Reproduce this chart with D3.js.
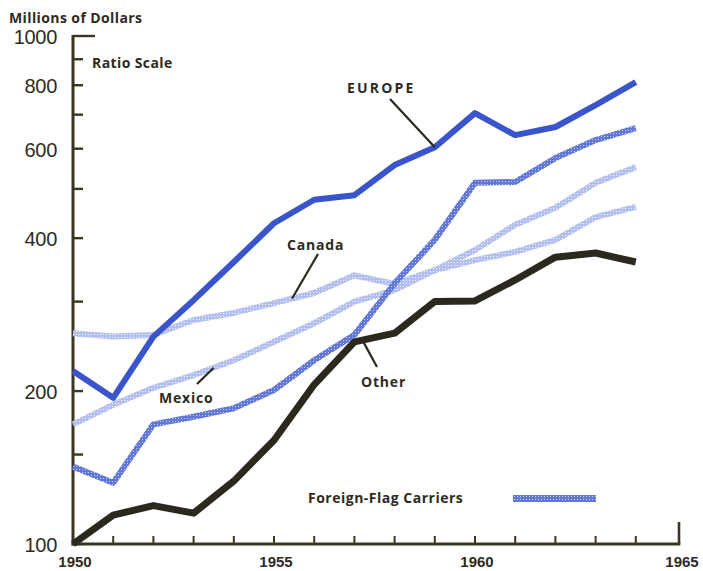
<!DOCTYPE html>
<html>
<head>
<meta charset="utf-8">
<script src="https://cdn.jsdelivr.net/npm/d3@7"></script>
<style>
  html, body { margin: 0; padding: 0; background: #ffffff; }
  svg { display: block; }
  text { fill: #2e2b1e; font-family: "Open Sans", "DejaVu Sans", sans-serif; }
</style>
</head>
<body>
<svg id="chart" width="703" height="571"></svg>
<script>
// Travel payments, millions of dollars (ratio scale), 1950-1964
const years = [1950, 1951, 1952, 1953, 1954, 1955, 1956, 1957, 1958, 1959, 1960, 1961, 1962, 1963, 1964];
const europe      = [219, 194, 256, 302, 359, 428, 476, 486, 557, 604, 705, 638, 662, 731, 811];
const foreignFlag = [142, 132, 172, 178, 185, 201, 230, 258, 326, 397, 514, 516, 575, 624, 659];
const mexico      = [172, 188, 203, 215, 230, 250, 272, 300, 316, 346, 379, 425, 459, 514, 552];
const canada      = [260, 256, 258, 276, 285, 298, 312, 338, 325, 346, 362, 376, 397, 440, 461];
const other       = [100, 114, 119, 115, 133, 160, 206, 250, 260, 300, 301, 331, 367, 374, 359];

const yTicks       = [100, 150, 200, 300, 400, 500, 600, 700, 800, 900, 1000];
const yTickLabels  = [100, 200, 400, 600, 800, 1000];
const xTickYears   = [1951, 1952, 1953, 1954, 1955, 1956, 1957, 1958, 1959, 1960, 1961, 1962, 1963, 1964];
const xLabelYears  = [1950, 1955, 1960, 1965];

const ink = "#3a3622";
const numFont = "'Liberation Sans', Arial, sans-serif";
const svg = d3.select("#chart");

const x = d3.scaleLinear().domain([1950, 1965]).range([73, 676]);
const y = d3.scaleLog().domain([100, 1000]).range([544, 36]);

// hatched stroke textures
const defs = svg.append("defs");
function hatch(id, base, dot) {
  const p = defs.append("pattern").attr("id", id)
    .attr("patternUnits", "userSpaceOnUse").attr("width", 3).attr("height", 3);
  p.append("rect").attr("width", 3).attr("height", 3).attr("fill", base);
  p.append("rect").attr("x", 1).attr("y", 1).attr("width", 1).attr("height", 1).attr("fill", dot);
}
hatch("hatchDense", "#6178d8", "#c9d1f3");
hatch("hatchLight", "#b3bfee", "#f2f4fd");

// axes
const yTickLong = 1000;
svg.append("g").selectAll("line").data(yTicks).join("line")
  .attr("x1", x(1950)).attr("x2", d => x(1950) + (d === yTickLong ? 22 : 10))
  .attr("y1", d => y(d)).attr("y2", d => y(d))
  .attr("stroke", ink).attr("stroke-width", 2.4);

svg.append("g").selectAll("line").data(xTickYears).join("line")
  .attr("x1", d => x(d)).attr("x2", d => x(d))
  .attr("y1", y(100)).attr("y2", y(100) - 8)
  .attr("stroke", ink).attr("stroke-width", 2);

svg.append("line")
  .attr("x1", x(1965) + 3).attr("x2", x(1965) + 3)
  .attr("y1", y(100)).attr("y2", y(100) - 22)
  .attr("stroke", ink).attr("stroke-width", 2.6);

svg.append("line")
  .attr("x1", x(1950)).attr("x2", x(1950))
  .attr("y1", y(1000) - 1).attr("y2", y(100) + 1.5)
  .attr("stroke", ink).attr("stroke-width", 3);
svg.append("line")
  .attr("x1", x(1950) - 1.5).attr("x2", x(1965) + 4.3)
  .attr("y1", y(100)).attr("y2", y(100))
  .attr("stroke", ink).attr("stroke-width", 3);

svg.append("g").selectAll("text").data(yTickLabels).join("text")
  .attr("x", 57).attr("y", d => y(d) + 8)
  .attr("text-anchor", "end")
  .style("font-family", numFont)
  .attr("font-size", 20).attr("letter-spacing", -0.3)
  .text(d => d);

svg.append("g").selectAll("text").data(xLabelYears).join("text")
  .attr("x", d => x(d) + (d === 1965 ? 6 : 2)).attr("y", 567)
  .attr("text-anchor", "middle")
  .style("font-family", numFont)
  .attr("font-size", 15).attr("font-weight", 700)
  .text(d => d);

svg.append("text").attr("x", 9).attr("y", 23)
  .attr("font-size", 14).attr("font-weight", 700).attr("letter-spacing", 0.4)
  .text("Millions of Dollars");
svg.append("text").attr("x", 92).attr("y", 68)
  .attr("font-size", 14).attr("font-weight", 700).attr("letter-spacing", 0.4)
  .text("Ratio Scale");

// series lines
const line = d3.line().x((d, i) => x(years[i])).y(d => y(d));

const series = [
  { values: canada,      stroke: "url(#hatchLight)", width: 6 },
  { values: mexico,      stroke: "url(#hatchLight)", width: 6 },
  { values: foreignFlag, stroke: "url(#hatchDense)", width: 6 },
  { values: other,       stroke: "#2b291d",          width: 7 },
  { values: europe,      stroke: "#3a54cb",          width: 6 }
];
svg.append("g").selectAll("path").data(series).join("path")
  .attr("d", d => line(d.values))
  .attr("fill", "none")
  .attr("stroke", d => d.stroke)
  .attr("stroke-width", d => d.width)
  .attr("stroke-linejoin", "round");

// labels with leader lines to their series
const idx = yr => years.indexOf(yr);
const labels = [
  { text: "EUROPE", tx: 347, ty: 93, ls: 2.2, from: [390, 99], yr: 1959, vals: europe, frac: 0 },
  { text: "Canada", tx: 287, ty: 250, ls: 0.8, from: [318, 254], yr: 1955, vals: canada, frac: 0.45 },
  { text: "Mexico", tx: 159, ty: 403, ls: 0.8, from: [197, 384], yr: 1953, vals: mexico, frac: 0.5 },
  { text: "Other",  tx: 361, ty: 387, ls: 0.8, from: [377, 367], yr: 1957, vals: other, frac: 0.2 }
];
labels.forEach(l => {
  const i = idx(l.yr);
  const px = x(l.yr) + (x(years[i + 1]) - x(l.yr)) * l.frac;
  const lv = Math.log(l.vals[i]) + (Math.log(l.vals[i + 1]) - Math.log(l.vals[i])) * l.frac;
  const py = y(Math.exp(lv));
  svg.append("line")
    .attr("x1", l.from[0]).attr("y1", l.from[1])
    .attr("x2", px).attr("y2", py)
    .attr("stroke", "#2b291d").attr("stroke-width", 2.2);
  svg.append("text").attr("x", l.tx).attr("y", l.ty)
    .attr("font-size", 14).attr("font-weight", 700).attr("letter-spacing", l.ls)
    .text(l.text);
});

// legend
svg.append("text").attr("x", 308).attr("y", 503)
  .attr("font-size", 14).attr("font-weight", 700).attr("letter-spacing", 0.5)
  .text("Foreign-Flag Carriers");
svg.append("line")
  .attr("x1", 513).attr("x2", 596).attr("y1", 498.5).attr("y2", 498.5)
  .attr("stroke", "url(#hatchDense)").attr("stroke-width", 7);
</script>
</body>
</html>
